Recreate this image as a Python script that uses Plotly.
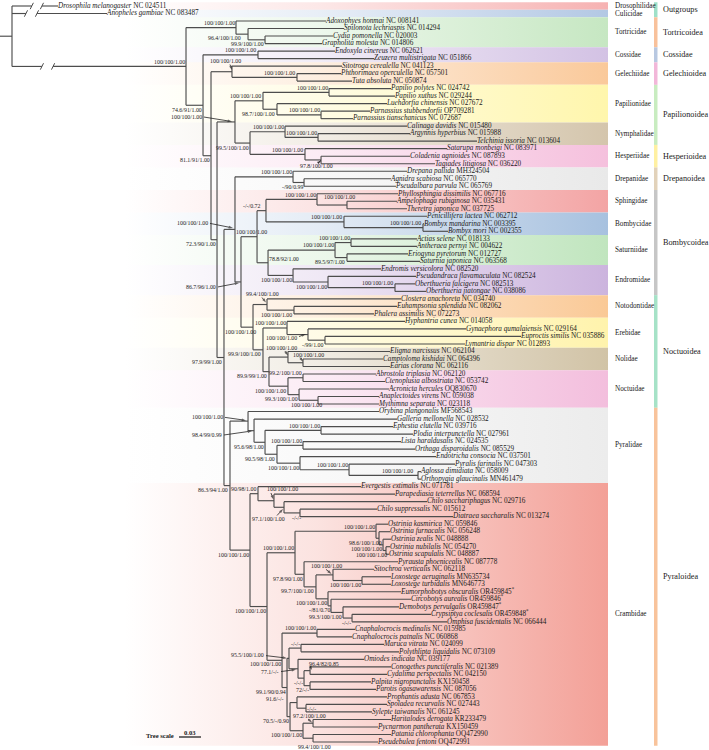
import plotly.graph_objects as go

# ------------------------------------------------------------------ data
species = [
    "Drosophila melanogaster", "Anopheles gambiae", "Adoxophyes honmai", "Spilonota lechriaspis",
    "Cydia pomonella", "Grapholita molesta", "Endoxyla cinereus", "Zeuzera multistrigata",
    "Sitotroga cerealella", "Phthorimaea operculella", "Tuta absoluta", "Papilio polytes",
    "Papilio xuthus", "Luehdorfia chinensis", "Parnassius stubbendorfii", "Parnassius tianschanicus",
    "Calinaga davidis", "Argynnis hyperbius", "Telchinia issoria", "Satarupa monbeigi",
    "Coladenia agnioides", "Tagiades litigiosa", "Drepana pallida", "Agnidra scabiosa",
    "Pseudalbara parvula", "Phyllosphingia dissimilis", "Ampelophaga rubiginosa", "Theretra japonica",
    "Penicillifera lactea", "Bombyx mandarina", "Bombyx mori", "Actias selene",
    "Antheraea pernyi", "Eriogyna pyretorum", "Saturnia japonica", "Endromis versicolora",
    "Pseudandraca flavamaculata", "Oberthueria falcigera", "Oberthueria jiatongae", "Clostera anachoreta",
    "Euhampsonia splendida", "Phalera assimilis", "Hyphantria cunea", "Gynaephora qumalaiensis",
    "Euproctis similis", "Lymantria dispar", "Eligma narcissus", "Camptoloma kishidai",
    "Earias clorana", "Abrostola triplasia", "Ctenoplusia albostriata", "Acronicta hercules",
    "Anaplectoides virens", "Mythimna separata", "Orybina plangonalis", "Galleria mellonella",
    "Ephestia elutella", "Plodia interpunctella", "Lista haraldusalis", "Orthaga disparoidalis",
    "Endotricha consocia", "Pyralis farinalis", "Aglossa dimidiata", "Orthopygia glaucinalis",
    "Evergestis extimalis", "Parapediasia teterrellus", "Chilo sacchariphagus", "Chilo suppressalis",
    "Diatraea saccharalis", "Ostrinia kasmirica", "Ostrinia furnacalis", "Ostrinia zealis",
    "Ostrinia nubilalis", "Ostrinia scapulalis", "Pyrausta phoenicealis", "Sitochroa verticalis",
    "Loxostege aeruginalis", "Loxostege turbidalis", "Eumorphobotys obscuralis", "Circobotys aurealis",
    "Demobotys pervulgalis", "Crypsiptya coclesalis", "Omphisa fuscidentalis", "Cnaphalocrocis medinalis",
    "Cnaphalocrocis patnalis", "Maruca vitrata", "Polythlipta liquidalis", "Omiodes indicata",
    "Conogethes punctiferalis", "Cydalima perspectalis", "Palpita nigropunctalis", "Parotis ogasawarensis",
    "Prophantis adusta", "Spoladea recurvalis", "Sylepte taiwanalis", "Haritalodes derogata",
    "Pycnarmon pantherata", "Patania chlorophanta", "Pseudebulea fentoni",
]
accessions = [
    "NC 024511", "NC 083487", "NC 008141", "NC 014294", "NC 020003", "NC 014806", "NC 062621",
    "NC 051866", "NC 041123", "NC 057501", "NC 050874", "NC 024742", "NC 029244", "NC 027672",
    "OP709281", "NC 072687", "NC 015480", "NC 015988", "NC 013604", "NC 083971", "NC 087893",
    "NC 036220", "MH324504", "NC 065770", "NC 065769", "NC 067716", "NC 035431", "NC 037725",
    "NC 062712", "NC 003395", "NC 002355", "NC 018133", "NC 004622", "NC 012727", "NC 063568",
    "NC 082520", "NC 082524", "NC 082513", "NC 038086", "NC 034740", "NC 082062", "NC 072273",
    "NC 014058", "NC 029164", "NC 035886", "NC 012893", "NC 062104", "NC 064396", "NC 062116",
    "NC 062120", "NC 053742", "OQ830670", "NC 059038", "NC 023118", "MF568543", "NC 028532",
    "NC 039716", "NC 027961", "NC 024535", "NC 085529", "NC 037501", "NC 047303", "NC 058009",
    "MN461479", "NC 071781", "NC 068594", "NC 029716", "NC 015612", "NC 013274", "NC 059846",
    "NC 056248", "NC 048888", "NC 054270", "NC 048887", "NC 087778", "NC 062118", "MN635734",
    "MN646773", "OR459845*", "OR459846*", "OR459847*", "OR459848*", "NC 066444", "NC 015985",
    "NC 060868", "NC 024099", "NC 073109", "NC 039177", "NC 021389", "NC 042150", "KX150458",
    "NC 087056", "NC 067853", "NC 027443", "NC 061245", "KR233479", "KX150459", "OQ472990",
    "OQ472991",
]
# cumulative depth of every tip from the root (substitutions/site, as drawn)
tip_depth = [
    0.0628, 0.1296, 0.4284, 0.4529, 0.4379, 0.4229, 0.4407, 0.4939, 0.4502, 0.4489,
    0.4639, 0.5171, 0.5225, 0.5116, 0.4884, 0.4652, 0.5389, 0.5430, 0.6344, 0.5935,
    0.5430, 0.5771, 0.5389, 0.5171, 0.5239, 0.5266, 0.5253, 0.5389, 0.5662, 0.5621,
    0.5948, 0.5525, 0.5525, 0.5403, 0.5566, 0.5034, 0.5512, 0.5498, 0.5648, 0.5307,
    0.5253, 0.4939, 0.5362, 0.6194, 0.6944, 0.6180, 0.5157, 0.5062, 0.5157, 0.4966,
    0.5089, 0.5143, 0.5007, 0.5007, 0.5007, 0.5253, 0.5198, 0.5471, 0.5307, 0.5498,
    0.5785, 0.6044, 0.5580, 0.5580, 0.4761, 0.5225, 0.5662, 0.4980, 0.6017, 0.5130,
    0.5157, 0.5171, 0.5157, 0.5143, 0.5266, 0.4939, 0.5171, 0.5171, 0.5307, 0.5444,
    0.5280, 0.5716, 0.5935, 0.4680, 0.4639, 0.5075, 0.5280, 0.4802, 0.5171, 0.5116,
    0.4898, 0.4966, 0.5116, 0.5116, 0.4911, 0.5171, 0.4993, 0.5171, 0.4993,
]

# internal nodes: name, children (tip index or node name, top to bottom), depth, support
node_names = [
    "root", "N1", "T1", "T2", "T3", "N2", "C1", "N3", "G1", "G2", "N4", "P", "Pap", "Pp1", "Pp2",
    "Pp3", "NH", "Nym", "Nym2", "Hes", "Hes2", "N5", "D", "Dr", "Dr2", "BN", "Bomb", "SB", "Sph",
    "Sph2", "Bom", "Bom2", "SE", "Sat", "Sat1", "Sat2", "End", "End2", "End3", "Noct", "Not",
    "Not2", "EN", "Ereb", "Ereb2", "Ereb3", "NN", "Nol", "Nol2", "Noc", "Noc1", "Noc2", "Noc3",
    "Pyl", "Pyr", "PyrB", "PyrC", "Phy", "PyrD", "LO", "PyrE", "PyrF", "PyrG", "Cr", "CrA",
    "CrA2", "CrA3", "CrA4", "CrB", "PY1", "O1", "O2", "O3", "O4", "PY2", "PY3", "SL", "Lox",
    "PY4", "PY5", "PY6", "PY7", "SP0", "Cn", "REST", "A", "MP", "O77", "CC", "CyC", "PP", "B",
    "B1", "SS", "B2", "HP", "PPs",
]
node_children = [
    [0, 1, "N1"], ["T1", "N2"], [2, "T2"], [3, "T3"], [4, 5], ["C1", "N3"], [6, 7], ["G1", "N4"],
    [8, "G2"], [9, 10], ["P", "N5"], ["Pap", "NH"], ["Pp1", "Pp2"], [11, 12], [13, "Pp3"],
    [14, 15], ["Nym", "Hes"], [16, "Nym2"], [17, 18], [19, "Hes2"], [20, 21], ["D", "Pyl"],
    ["Dr", "BN"], [22, "Dr2"], [23, 24], ["Bomb", "Noct"], ["SB", "SE"], ["Sph", "Bom"],
    [25, "Sph2"], [26, 27], [28, "Bom2"], [29, 30], ["Sat", "End"], ["Sat1", "Sat2"], [31, 32],
    [33, 34], [35, "End2"], [36, "End3"], [37, 38], ["Not", "EN"], [39, "Not2"], [40, 41],
    ["Ereb", "NN"], [42, "Ereb2"], [43, "Ereb3"], [44, 45], ["Nol", "Noc"], [46, "Nol2"],
    [47, 48], ["Noc1", "Noc2"], [49, 50], [51, "Noc3"], [52, 53], ["Pyr", "Cr"], [54, "PyrB"],
    [55, "PyrC"], ["Phy", "PyrD"], [56, 57], ["LO", "PyrE"], [58, 59], [60, "PyrF"],
    [61, "PyrG"], [62, 63], ["CrA", "CrB"], [64, "CrA2"], [65, "CrA3"], [66, "CrA4"], [67, 68],
    ["PY1", "SP0"], ["O1", "PY2"], [69, "O2"], [70, "O3"], [71, "O4"], [72, 73], [74, "PY3"],
    ["SL", "PY4"], [75, "Lox"], [76, 77], [78, "PY5"], [79, "PY6"], [80, "PY7"], [81, 82],
    ["Cn", "REST"], [83, 84], ["A", "B"], ["MP", "O77"], [85, 86], [87, "CC"], ["CyC", "PP"],
    [88, 89], [90, 91], ["B1", "B2"], [92, "SS"], [93, 94], ["HP", "PPs"], [95, 96], [97, 98],
]
node_depth = [
    0.0, 0.2374, 0.3056, 0.3220, 0.3452, 0.2606, 0.3356, 0.2715, 0.3001, 0.3888, 0.2797, 0.3042,
    0.3424, 0.4325, 0.3615, 0.4216, 0.3247, 0.3725, 0.4175, 0.3997, 0.4216, 0.2892, 0.3042,
    0.3834, 0.3984, 0.3124, 0.3343, 0.3465, 0.4161, 0.4570, 0.4529, 0.5607, 0.3493, 0.4407,
    0.4625, 0.4570, 0.3834, 0.4311, 0.5225, 0.3288, 0.3479, 0.3847, 0.3424, 0.3752, 0.4038,
    0.4270, 0.3506, 0.3765, 0.3970, 0.3765, 0.3970, 0.3916, 0.4175, 0.2974, 0.3220, 0.3302,
    0.3452, 0.4216, 0.3615, 0.3970, 0.3929, 0.4598, 0.5539, 0.3247, 0.3356, 0.3574, 0.3711,
    0.3929, 0.3479, 0.3861, 0.4966, 0.5007, 0.5062, 0.5102, 0.3984, 0.4147, 0.4379, 0.4775,
    0.4311, 0.4352, 0.4516, 0.4639, 0.3684, 0.4161, 0.3752, 0.3779, 0.3943, 0.3902, 0.3984,
    0.4066, 0.4066, 0.3793, 0.3888, 0.4011, 0.3970, 0.4107, 0.4107,
]
node_support = [
    "", "100/100/1.00", "100/100/1.00", "96.4/100/1.00", "99.9/100/1.00", "74.6/91/1.00",
    "100/100/1.00", "81.1/91/1.00", "100/100/1.00", "100/100/1.00", "72.3/90/1.00",
    "100/100/1.00", "100/100/1.00", "100/100/1.00", "98.7/100/1.00", "100/100/1.00",
    "99.5/100/1.00", "100/100/1.00", "100/100/1.00", "100/100/1.00", "97.8/100/1.00",
    "97.9/99/1.00", "100/100/1.00", "100/100/1.00", "-/90/0.99", "86.7/96/1.00", "100/100/1.00",
    "-/-/0.72", "100/100/1.00", "100/100/1.00", "100/100/1.00", "100/100/1.00", "78.8/92/1.00",
    "100/100/1.00", "100/100/1.00", "89.5/97/1.00", "100/100/1.00", "100/100/1.00",
    "100/100/1.00", "100/100/1.00", "99.4/100/1.00", "100/100/1.00", "99.9/100/1.00",
    "100/100/1.00", "100/100/1.00", "-/99/1.00", "89.9/99/1.00", "100/100/1.00", "100/100/1.00",
    "100/100/1.00", "99.2/100/1.00", "99.3/100/1.00", "100/100/1.00", "86.3/94/1.00",
    "100/100/1.00", "98.4/99/0.99", "95.6/98/1.00", "100/100/1.00", "90.5/98/1.00",
    "100/100/1.00", "100/100/1.00", "100/100/1.00", "100/100/1.00", "100/100/1.00",
    "90/98/1.00", "100/100/1.00", "97.1/100/1.00", "-/-/-", "100/100/1.00", "100/100/1.00",
    "100/100/1.00", "98.6/100/1.00", "100/100/1.00", "100/100/1.00", "97.8/90/1.00",
    "99.7/100/1.00", "100/100/1.00", "100/100/1.00", "100/100/1.00", "-/81/0.70",
    "99.3/100/1.00", "-/-/-", "100/100/1.00", "100/100/1.00", "99.1/90/0.94", "95.5/100/1.00",
    "-/-/-", "77.1/-/-", "-/-/-", "96.4/82/0.85", "72/-/-", "70.5/-/0.90", "91.6/-/-", "-/-/-",
    "100/100/1.00", "97.2/100/1.00", "99.4/100/1.00",
]

families = ["Drosophilidae", "Culicidae", "Tortricidae", "Cossidae", "Gelechiidae", "Papilionidae",
            "Nymphalidae", "Hesperiidae", "Drepanidae", "Sphingidae", "Bombycidae", "Saturniidae",
            "Endromidae", "Notodontidae", "Erebidae", "Nolidae", "Noctuidae", "Pyralidae", "Crambidae"]
family_first = [0, 1, 2, 6, 8, 11, 16, 19, 22, 25, 28, 31, 35, 39, 42, 46, 49, 54, 64]
family_last = [0, 1, 5, 7, 10, 15, 18, 21, 24, 27, 30, 34, 38, 41, 45, 48, 53, 63, 98]
family_colors = ["#F6B2B2", "#B3C8E4", "#C6E7C2", "#D3C2E4", "#FAC99A", "#FFF6AC", "#D4C5AC",
                 "#F5C0DD", "#E9E9E9", "#F3A4A4", "#A7C1DF", "#C0E5BE", "#CCB4DE", "#FAC996",
                 "#FFF3AC", "#D1C3A6", "#F3BEDD", "#ECECEC", "#F3A097"]

superfamilies = ["Outgroups", "Tortricoidea", "Cossidae", "Gelechioidea", "Papilionoidea",
                 "Hesperioidea", "Drepanoidea", "Bombycoidea", "Noctuoidea", "Pyraloidea"]
superfamily_first = [0, 2, 6, 8, 11, 19, 22, 25, 39, 54]
superfamily_last = [1, 5, 7, 10, 18, 21, 24, 38, 53, 98]
superfamily_colors = ["#9FE0C8", "#F8C19B", "#B8C8E1", "#F2B7D9", "#C8ECC0", "#FFF0A2",
                      "#E2D2BA", "#C6C6C6", "#A6E2C7", "#F8C39B"]

tree_scale = 0.03
root_stem = 0.0164

# ------------------------------------------------------------------ style
W, H = 709, 750
PX_PER_UNIT = 733.0
ROOT_PX = 12.0
ROW_PX = 7.51
TOP_PX = 6.0
X0 = -ROOT_PX / PX_PER_UNIT
X1 = X0 + W / PX_PER_UNIT
Y0 = -TOP_PX / ROW_PX
Y1 = Y0 + H / ROW_PX
SERIF = "Liberation Serif"
LINE_COL = "#4d4d4d"


def px2x(px):
    return X0 + px / PX_PER_UNIT


def px2y(py):
    return Y0 + py / ROW_PX


# label placement (px offsets of label right edge / centre from node)
A_, B_ = (-0.5, -4.6), (-0.5, 4.6)
place = {n: A_ for n in node_names}
for n in ["T3", "N2", "N3", "N4", "Pp2", "NH", "N5", "Dr2", "Sat2", "End", "End2", "Not2", "EN",
          "Ereb3", "NN", "Noc", "Noc2", "Pyl", "PyrC", "PyrD", "PyrE", "Cr", "CrB", "O3", "PY2",
          "PY3", "Lox", "PY4", "PY5", "PY6", "PY7", "SP0", "REST", "CC", "PP", "B", "B2"]:
    place[n] = B_
place.update({
    "T2": (-6, 3.6), "SB": (-4, -4.6), "Sph2": (9, -8), "Bomb": (11, -4.7), "SE": (32, -3.8),
    "Noct": (4, 4.6), "Noc3": (5, 4.6), "PyrG": (-4, -4.6), "CrA4": (2, 4.6), "O2": (4, 4.6),
    "O4": (2, 4.6), "B1": (-12, -4), "SS": (11, 1), "PPs": (19, 8.8), "SP0": (-0.5, 3.2),
})
# arrows: label (dx, dy), tail (dx, dy), head (dx, dy)
arrows = {
    "G1": (10, -10.7, -2, -7.2, 0, -1.7),
    "P": (-32, -4.9, -31, -4.9, -3, -0.4),
    "Hes2": (13, 6, -3, 3, 0, 0.5),
    "D": (-26, -6.4, -25, -6, -2, -1.4),
    "BN": (-24, 5, -23, 5, -2, 1),
    "Not": (13, -10.5, -5, -7, -1, -2),
    "Ereb2": (-10, 3.5, -9, 2, -2, -0.5),
    "Nol": (10, -9, -3, -6, 0, -1.6),
    "Nol2": (22, -7.8, -3, -5.3, 0, -1),
    "Pyr": (-24, -4.2, -23, -3.7, -2, -0.7),
    "PyrB": (-31, 4.3, -30, 4.3, -2, 0.3),
    "CrA2": (25, -11.7, -3, -7.7, -0.5, -1.2),
    "CrA3": (2, 11.7, -7, 8.2, -1, 1.7),
    "SL": (10, -8.5, -7, -5.5, -1.5, -1),
    "A": (-24, -3.3, -23, -2.8, -2, -0.3),
    "O77": (-18, 3.3, -17, 2.8, -2, 0.8),
    "CyC": (30, -6.6, 0, -4.6, 2, -0.6),
    "HP": (14, -7.2, -5, -4.2, -1, -0.7),
}
# axis breaks on the long outgroup branches (fractions along branch)
breaks = {0: (0.43, 0.65), 1: (0.147, 0.263), "N1": (0.172, 0.236)}

# ------------------------------------------------------------------ layout of tree
nodes = {n: (c, d) for n, c, d in zip(node_names, node_children, node_depth)}
ycache = {}


def ypos(ref):
    if isinstance(ref, int):
        return float(ref)
    if ref not in ycache:
        ch = nodes[ref][0]
        ycache[ref] = (ypos(ch[0]) + ypos(ch[-1])) / 2.0
    return ycache[ref]


def xpos(ref):
    return tip_depth[ref] if isinstance(ref, int) else nodes[ref][1]


lx, ly, bx, by = [], [], [], []


def seg(xa, ya, xb, yb, X=lx, Y=ly):
    X.extend([xa, xb, None])
    Y.extend([ya, yb, None])


sdx, sdy = 1.6 / PX_PER_UNIT, 3.2 / ROW_PX
for n in node_names:
    ch, d = nodes[n]
    seg(d, ypos(ch[0]), d, ypos(ch[-1]))
    for c in ch:
        cx, cy = xpos(c), ypos(c)
        if c in breaks:
            f1, f2 = breaks[c]
            s1, s2 = d + f1 * (cx - d), d + f2 * (cx - d)
            seg(d, cy, s1, cy)
            seg(s2, cy, cx, cy)
            for s in (s1, s2):
                seg(s - sdx, cy + sdy, s + sdx, cy - sdy, bx, by)
        else:
            seg(d, cy, cx, cy)
seg(-root_stem, ypos("root"), 0, ypos("root"))

fig = go.Figure()

# family bands with horizontal gradient
band_l, band_r = px2x(125), px2x(608)
for fam, f0, f1, col in zip(families, family_first, family_last, family_colors):
    r, g, b = int(col[1:3], 16), int(col[3:5], 16), int(col[5:7], 16)
    ya, yb = f0 - 0.5, f1 + 0.5
    fig.add_trace(go.Scatter(
        x=[band_l, band_r, band_r, band_l, band_l], y=[ya, ya, yb, yb, ya],
        mode="lines", fill="toself", line=dict(width=0, color="rgba(0,0,0,0)"),
        fillgradient=dict(type="horizontal",
                          colorscale=[[0, f"rgba({r},{g},{b},0)"], [0.4, f"rgba({r},{g},{b},0.3)"],
                                      [1, f"rgba({r},{g},{b},1)"]]),
        hoverinfo="skip", showlegend=False))

fig.add_trace(go.Scatter(x=lx, y=ly, mode="lines", line=dict(color=LINE_COL, width=1.15),
                         hoverinfo="skip", showlegend=False))
fig.add_trace(go.Scatter(x=bx, y=by, mode="lines", line=dict(color=LINE_COL, width=1.0),
                         hoverinfo="skip", showlegend=False))

# support arrows (line + arrowhead marker)
for n, (ldx, ldy, tdx, tdy, hdx, hdy) in arrows.items():
    d, y = nodes[n][1], ypos(n)
    xs = [d + tdx / PX_PER_UNIT, d + hdx / PX_PER_UNIT]
    ys = [y + tdy / ROW_PX, y + hdy / ROW_PX]
    fig.add_trace(go.Scatter(x=xs, y=ys, mode="lines+markers",
                             line=dict(color="#222", width=0.8),
                             marker=dict(symbol="arrow", size=[0, 4.5], angleref="previous",
                                         color="#222", line=dict(width=0)),
                             hoverinfo="skip", showlegend=False))

tip_text = []
for sp, acc in zip(species, accessions):
    acc_html = acc.replace("*", "<sup>*</sup>")
    tip_text.append(f"<i>{sp}</i> {acc_html}")
fig.add_trace(go.Scatter(x=tip_depth, y=list(range(len(species))), mode="text", text=tip_text,
                         textposition="middle right",
                         textfont=dict(family=SERIF, size=7.2, color="#1a1a1a"),
                         hoverinfo="skip", showlegend=False))

# tree scale bar
sb_x = px2x(179)
sb_y = px2y(737)
fig.add_trace(go.Scatter(x=[sb_x, sb_x + tree_scale], y=[sb_y, sb_y], mode="lines",
                         line=dict(color="#222", width=1.3), hoverinfo="skip", showlegend=False))

ann = []
for n, sup in zip(node_names, node_support):
    if not sup:
        continue
    d = nodes[n][1]
    y = ypos(n)
    if n in arrows:
        ldx, ldy = arrows[n][:2]
    else:
        ldx, ldy = place[n]
    ann.append(dict(x=d, y=y, xref="x", yref="y", text=sup, showarrow=False,
                    xanchor="right", yanchor="middle", xshift=ldx, yshift=-ldy,
                    font=dict(family=SERIF, size=5.9, color="#222"), borderpad=0))

for fam, f0, f1 in zip(families, family_first, family_last):
    ann.append(dict(x=px2x(614), y=(f0 + f1) / 2, xref="x", yref="y", text=fam, showarrow=False,
                    xanchor="left", yanchor="middle", borderpad=0,
                    font=dict(family=SERIF, size=7.2, color="#1a1a1a")))

shapes = []
for sf, s0, s1, col in zip(superfamilies, superfamily_first, superfamily_last, superfamily_colors):
    shapes.append(dict(type="rect", xref="x", yref="y", x0=px2x(654), x1=px2x(657.5),
                       y0=s0 - 0.5, y1=s1 + 0.5, fillcolor=col, line=dict(width=0)))
    ann.append(dict(x=px2x(661), y=(s0 + s1) / 2, xref="x", yref="y", text=sf, showarrow=False,
                    xanchor="left", yanchor="middle",
                    font=dict(family=SERIF, size=8.2, color="#1a1a1a")))

ann.append(dict(x=px2x(176), y=px2y(735), xref="x", yref="y", text="<b>Tree scale</b>",
                showarrow=False, xanchor="right", yanchor="middle",
                font=dict(family=SERIF, size=6.6, color="#222")))
ann.append(dict(x=sb_x + tree_scale / 2, y=px2y(732.5), xref="x", yref="y", text="<b>0.03</b>",
                showarrow=False, xanchor="center", yanchor="middle",
                font=dict(family=SERIF, size=6.6, color="#222")))

fig.update_layout(
    width=W, height=H, margin=dict(l=0, r=0, t=0, b=0),
    paper_bgcolor="white", plot_bgcolor="white",
    xaxis=dict(range=[X0, X1], visible=False, fixedrange=True),
    yaxis=dict(range=[Y1, Y0], visible=False, fixedrange=True),
    annotations=ann, shapes=shapes, showlegend=False,
)
fig.write_html(
    "out.html",
    config={"displayModeBar": False},
    post_script="document.body.style.margin='0';document.body.style.overflow='hidden';",
)
